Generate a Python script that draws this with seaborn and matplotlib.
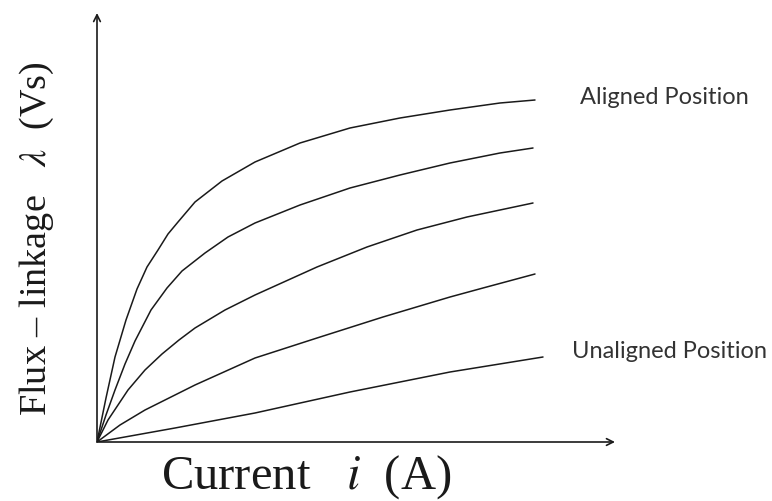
import numpy as np
import pandas as pd
import matplotlib
matplotlib.use("Agg")
import matplotlib.pyplot as plt
import seaborn as sns

# flux-linkage curves (arbitrary units), aligned -> unaligned
CURVE_NAMES = ["aligned", "c2", "c3", "c4", "unaligned"]

cur_aligned = [0, 0.09, 0.18, 0.29, 0.40, 0.50, 0.61, 0.71, 0.81, 0.98, 1.25, 1.58, 2.03, 2.53, 3.03, 3.53, 4.03, 4.38]
flux_aligned = [0, 0.44, 0.85, 1.22, 1.53, 1.75, 1.92, 2.08, 2.20, 2.40, 2.61, 2.80, 2.99, 3.14, 3.24, 3.32, 3.39, 3.42]

cur_c2 = [0, 0.09, 0.18, 0.28, 0.38, 0.54, 0.70, 0.85, 1.08, 1.31, 1.58, 2.03, 2.53, 3.03, 3.53, 4.03, 4.36]
flux_c2 = [0, 0.27, 0.52, 0.78, 1.01, 1.32, 1.54, 1.71, 1.89, 2.05, 2.19, 2.37, 2.54, 2.67, 2.79, 2.89, 2.94]

cur_c3 = [0, 0.11, 0.31, 0.48, 0.65, 0.82, 0.98, 1.28, 1.58, 2.20, 2.70, 3.20, 3.70, 4.36]
flux_c3 = [0, 0.22, 0.52, 0.72, 0.88, 1.02, 1.14, 1.32, 1.47, 1.75, 1.95, 2.12, 2.25, 2.39]

cur_c4 = [0, 0.23, 0.48, 0.98, 1.58, 2.20, 2.86, 3.53, 3.86, 4.38]
flux_c4 = [0, 0.17, 0.32, 0.57, 0.84, 1.04, 1.25, 1.45, 1.54, 1.68]

cur_unaligned = [0, 0.78, 1.58, 2.53, 3.53, 4.46]
flux_unaligned = [0, 0.14, 0.29, 0.50, 0.70, 0.85]

CURVES = {
    "aligned": (cur_aligned, flux_aligned),
    "c2": (cur_c2, flux_c2),
    "c3": (cur_c3, flux_c3),
    "c4": (cur_c4, flux_c4),
    "unaligned": (cur_unaligned, flux_unaligned),
}

X_MAX, Y_MAX = 5.2, 4.3

sns.set_theme(style="white")
plt.rcParams["font.family"] = ["Liberation Serif", "DejaVu Serif"]
plt.rcParams["mathtext.fontset"] = "stix"

fig = plt.figure(figsize=(7.72, 5.01), dpi=100)
ax = fig.add_axes([97 / 772, 59 / 501, 520 / 772, 430 / 501])

for name in CURVE_NAMES:
    cx, cy = CURVES[name]
    d = pd.DataFrame({"current": cx, "flux": cy})
    sns.lineplot(data=d, x="current", y="flux", ax=ax, color="#1a1a1a",
                 lw=1.1, sort=False, estimator=None)

ax.set_xlim(0, X_MAX)
ax.set_ylim(0, Y_MAX)
for s in ax.spines.values():
    s.set_visible(False)
ax.set_xticks([])
ax.set_yticks([])
ax.set_xlabel("")
ax.set_ylabel("")
ax.patch.set_alpha(0)

# axes drawn as arrows
arrow = dict(arrowstyle="->", lw=1.2, color="#1a1a1a", shrinkA=0, shrinkB=0,
             mutation_scale=12)
ax.annotate("", xy=(5.18, 0), xytext=(0, 0), arrowprops=arrow, annotation_clip=False)
ax.annotate("", xy=(0, 4.29), xytext=(0, 0), arrowprops=arrow, annotation_clip=False)

lab_font = dict(family=["Lato", "DejaVu Sans"], fontsize=17, color="#333333",
                va="center", ha="left")
ax.text(4.83, 3.44, "Aligned Position", clip_on=False, **lab_font)
ax.text(4.75, 0.90, "Unaligned Position", clip_on=False, **lab_font)

fig.text(306 / 772, 12 / 501, r"Current   $i$  (A)", ha="center", va="baseline",
         fontsize=35, color="#1a1a1a")
fig.text(37 / 772, 1 - 239 / 501, r"Flux – linkage   $\lambda$  (Vs)", rotation=90,
         ha="center", va="center", fontsize=27.5, color="#1a1a1a")

fig.savefig("out.png", dpi=100)
